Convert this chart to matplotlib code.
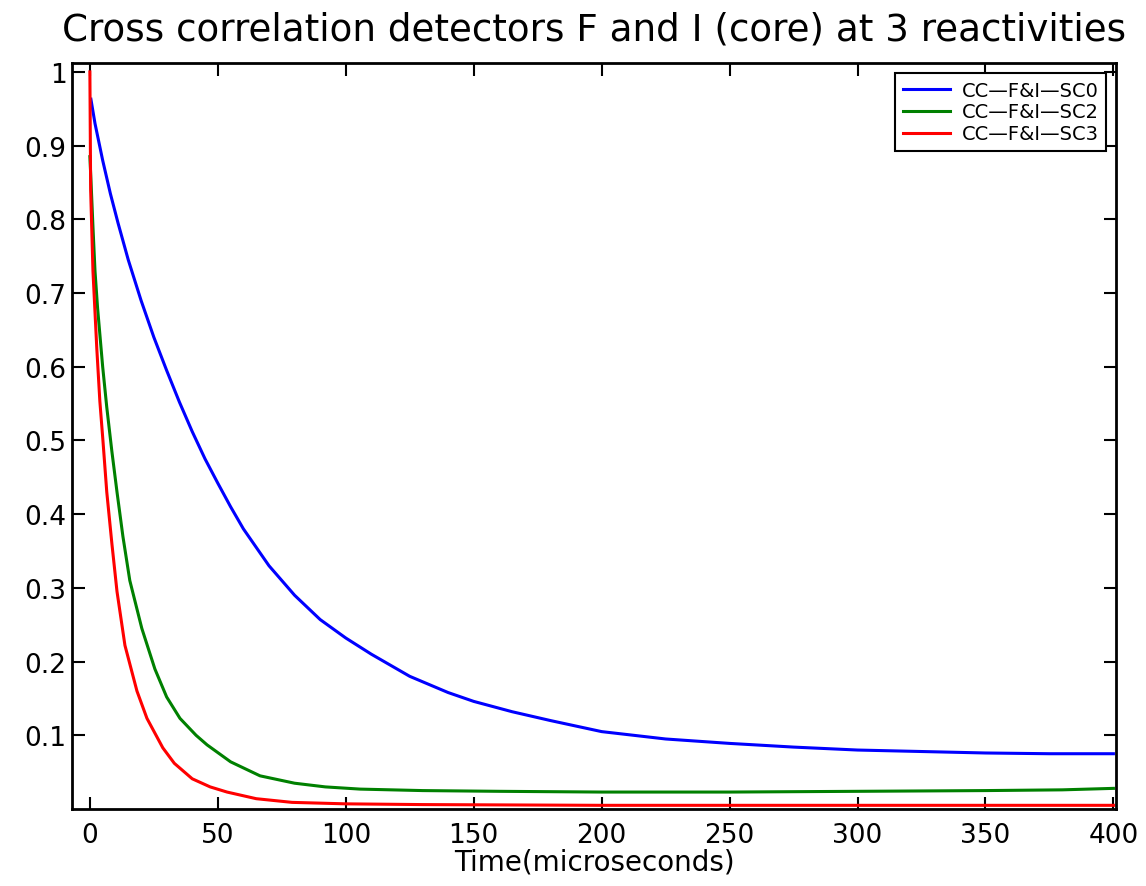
import numpy as np
import matplotlib.pyplot as plt
from matplotlib.ticker import FuncFormatter

plt.rcParams['font.family'] = ['DejaVu Sans']

# values (time in microseconds)
t_sc0 = [0.4, 2, 5, 8, 11, 15, 20, 25, 30, 35, 40, 45, 50, 55, 60, 70, 80, 90, 100, 110,
         125, 140, 150, 165, 180, 200, 225, 250, 275, 300, 325, 350, 375, 400]
cc_sc0 = [0.963, 0.93, 0.88, 0.835, 0.795, 0.745, 0.69, 0.64, 0.595, 0.552, 0.512, 0.475,
          0.442, 0.41, 0.38, 0.33, 0.29, 0.257, 0.232, 0.21, 0.18, 0.158, 0.146, 0.132,
          0.12, 0.105, 0.095, 0.089, 0.084, 0.080, 0.078, 0.076, 0.075, 0.075]

t_sc2 = [0, 0.4, 1.2, 2, 3, 4, 5, 6.6, 8.6, 10.6, 12.9, 15.6, 20.3, 25.4, 30, 35.2, 41.5,
         45.8, 55, 66.5, 80, 92, 105.6, 130, 160, 200, 250, 300, 350, 380, 400]
cc_sc2 = [0.885, 0.855, 0.79, 0.73, 0.68, 0.64, 0.60, 0.545, 0.485, 0.43, 0.37, 0.31,
          0.245, 0.19, 0.152, 0.123, 0.10, 0.087, 0.064, 0.045, 0.035, 0.030, 0.027, 0.025,
          0.024, 0.023, 0.023, 0.024, 0.025, 0.026, 0.028]

t_sc3 = [0, 0.3, 1.2, 2.7, 3.9, 5.1, 6.6, 8.6, 10.6, 13.7, 18.4, 22.3, 28.5, 33, 40, 47,
         53.6, 65, 79, 100, 130, 200, 300, 400]
cc_sc3 = [1.0, 0.84, 0.73, 0.625, 0.553, 0.5, 0.43, 0.36, 0.295, 0.222, 0.16, 0.123, 0.083,
          0.062, 0.041, 0.030, 0.023, 0.014, 0.009, 0.007, 0.006, 0.005, 0.005, 0.005]

labels = ['CC\u2014F&I\u2014SC0', 'CC\u2014F&I\u2014SC2', 'CC\u2014F&I\u2014SC3']
x_ticks = [0, 50, 100, 150, 200, 250, 300, 350, 400]
y_ticks = [0.1, 0.2, 0.3, 0.4, 0.5, 0.6, 0.7, 0.8, 0.9, 1]

fig = plt.figure(figsize=(11.46, 8.87), dpi=100)
ax = fig.add_axes([0.0628, 0.0868, 0.911, 0.841])

ax.plot(t_sc0, cc_sc0, color='#0000ff', linewidth=2.2, label=labels[0])
ax.plot(t_sc2, cc_sc2, color='#008000', linewidth=2.2, label=labels[1])
ax.plot(t_sc3, cc_sc3, color='#ff0000', linewidth=2.2, label=labels[2])

ax.set_xlim(-7, 401)
ax.set_ylim(0, 1.012)
ax.set_xticks(x_ticks)
ax.set_yticks(y_ticks)
ax.yaxis.set_major_formatter(FuncFormatter(lambda v, p: '%g' % v))
ax.tick_params(direction='in', length=9, width=1.5, top=True, right=True,
               labelsize=19)
ax.tick_params(axis='x', pad=9)
ax.tick_params(axis='y', pad=4)
for s in ax.spines.values():
    s.set_linewidth(2)

ax.set_xlabel('Time(microseconds)', fontsize=20, labelpad=0)
ax.set_title('Cross correlation detectors F and I (core) at 3 reactivities',
             fontsize=26.8, pad=17)

leg = ax.legend(loc='upper right', fontsize=14, fancybox=False, edgecolor='black',
                framealpha=1, borderaxespad=0.5, handlelength=2.4, handletextpad=0.6,
                labelspacing=0.15, borderpad=0.4)
leg.get_frame().set_linewidth(1.5)

fig.savefig('out.png', dpi=100)
